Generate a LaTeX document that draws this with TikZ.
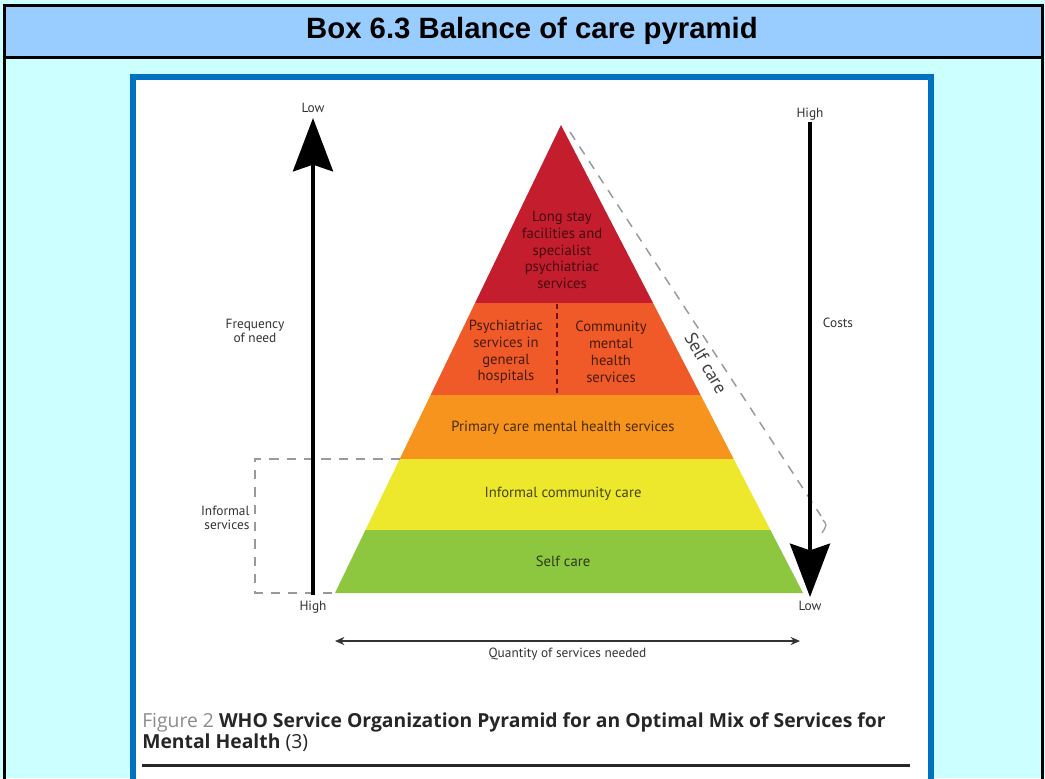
\documentclass[tikz,border=0pt]{standalone}
\usepackage{fontspec}
\setmainfont{PT Sans}
\newfontfamily\headfont{Liberation Sans}
\newfontfamily\captfont{Open Sans}
\usetikzlibrary{positioning,arrows.meta,calc}
\definecolor{headblue}{HTML}{99CCFF}
\definecolor{boxcyan}{HTML}{CCFFFF}
\definecolor{frameblue}{HTML}{0070C0}
\definecolor{lsred}{HTML}{C41E2E}
\definecolor{psyorange}{HTML}{F05A28}
\definecolor{primorange}{HTML}{F7941D}
\definecolor{informyellow}{HTML}{EEE82D}
\definecolor{selfgreen}{HTML}{8DC63F}
\definecolor{captgray}{HTML}{8C8C8C}

\begin{document}
\begin{tikzpicture}[x=0.75pt,y=-0.75pt,node distance=2pt]
  \tikzstyle{axislabel} = [font=\fontsize{10}{11}\selectfont, text=black!80, inner sep=1pt, align=center]
  \tikzstyle{layertext} = [font=\fontsize{11}{12.6}\selectfont, align=center, inner sep=0pt]
  \tikzstyle{bigarrow} = [line width=3pt, -{Stealth[length=40pt,width=30pt,inset=5pt]}]
  \tikzstyle{thinarrow} = [line width=1.5pt, black!80, {Stealth[length=7pt,width=6pt]}-{Stealth[length=7pt,width=6pt]}]
  \tikzstyle{dashline} = [black!40, line width=1.1pt, dash pattern=on 7pt off 6pt]

  \useasboundingbox (0,0) rectangle (1045,778);
  \clip (0,0) rectangle (1045,778);

  % box and heading
  \fill[boxcyan] (0,0) rectangle (1045,778);
  \fill[headblue] (4,5) rectangle (1042,57);
  \draw[line width=2.25pt] (4,800) -- (4,5) -- (1042,5) -- (1042,800);
  \draw[line width=2.25pt] (4,57) -- (1042,57);
  \node (title) [font=\headfont\bfseries\fontsize{22}{24}\selectfont] at (532,31) {Box 6.3 Balance of care pyramid};
  \draw[frameblue, line width=4.5pt, fill=white] (133,77) rectangle (931,800);

  % pyramid
  \coordinate (apex) at (561,125);
  \coordinate (baseL) at (335,593);
  \coordinate (baseR) at (803,593);
  \begin{scope}
    \clip (apex) -- (baseR) -- (baseL) -- cycle;
    \fill[lsred] (300,110) rectangle (850,303);
    \fill[psyorange] (300,303) rectangle (850,395);
    \fill[primorange] (300,395) rectangle (850,459);
    \fill[informyellow] (300,459) rectangle (850,530);
    \fill[selfgreen] (300,530) rectangle (850,600);
  \end{scope}
  \draw[lsred!60!black, line width=1pt, dash pattern=on 4pt off 3pt] (557,304) -- (557,395);

  \node (longstay) [layertext, text=lsred!35!black] at (562,250) {Long stay\\facilities and\\specialist\\psychiatriac\\services};
  \node (psyhosp) [layertext, text=psyorange!30!black] at (506,352) {Psychiatriac\\services in\\general\\hospitals};
  \node (commmh) [layertext, text=psyorange!30!black] at (611,352) {Community\\mental\\health\\services};
  \node (primary) [layertext, text=primorange!30!black] at (563,428) {Primary care mental health services};
  \node (informal) [layertext, text=informyellow!30!black] at (563,494) {Informal community care};
  \node (selfcare) [layertext, text=selfgreen!30!black] at (563,561) {Self care};

  % informal services box
  \draw[dashline] (400,459) -- (255,459) -- (255,593) -- (baseL);
  \node (infserv) [axislabel, anchor=east, align=right] at (251,518) {Informal\\services};

  % self care line
  \coordinate (sctop) at (570,132);
  \coordinate (scbot) at (821,516);
  \draw[dashline] (sctop) -- (scbot);
  \draw[black!40, line width=1pt] (scbot) ++(2,4) .. controls (827,525) .. (822,533);
  \node (sclabel) [font=\fontsize{13.5}{15}\selectfont, text=black!75, rotate=-60] at (706,363) {Self care};

  % frequency axis
  \coordinate (freqbot) at (313,595);
  \coordinate (freqtop) at (313,118);
  \draw[bigarrow] (freqbot) -- (freqtop);
  \node (freqlow) [axislabel, above=3pt of freqtop] {Low};
  \node (freqhigh) [axislabel, below=3pt of freqbot] {High};
  \node (freq) [axislabel] at (255,331) {Frequency\\of need};

  % cost axis
  \coordinate (costtop) at (810,122);
  \coordinate (costbot) at (810,597);
  \draw[bigarrow] (costtop) -- (costbot);
  \node (costhigh) [axislabel, above=0pt of costtop] {High};
  \node (costlow) [axislabel, below=2pt of costbot] {Low};
  \node (costs) [axislabel] at (838,323) {Costs};

  % quantity axis
  \coordinate (qleft) at (335,641);
  \coordinate (qright) at (800,641);
  \coordinate (qmid) at ($(qleft)!0.5!(qright)$);
  \draw[thinarrow] (qleft) -- (qright);
  \node (quantity) [axislabel, below=4pt of qmid] {Quantity of services needed};

  % caption
  \node (caption) [anchor=north west, align=left, inner sep=0pt, text=black!85, font=\captfont\fontsize{14.5}{16}\selectfont] at (142,712) {{\color{captgray}Figure 2} \textbf{WHO Service Organization Pyramid for an Optimal Mix of Services for}\\\textbf{Mental Health} (3)};
  \draw[line width=2.25pt, black!85] (142,765) -- (910,765);
\end{tikzpicture}
\end{document}
